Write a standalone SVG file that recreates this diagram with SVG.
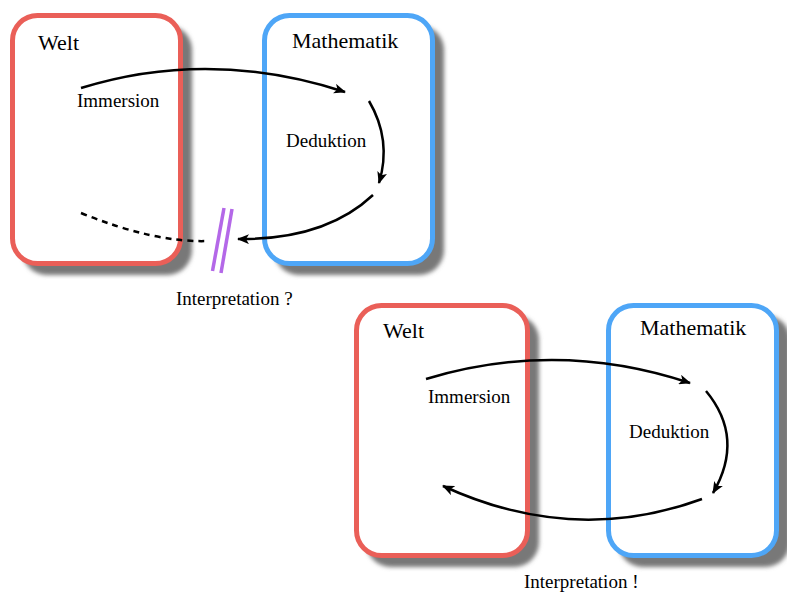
<svg xmlns="http://www.w3.org/2000/svg" width="787" height="592" viewBox="0 0 787 592">
<defs>
<filter id="sh" x="-20%" y="-20%" width="140%" height="140%">
<feGaussianBlur stdDeviation="2"/>
</filter>
<marker id="ah" viewBox="0 0 12 10" refX="11" refY="5" markerWidth="12" markerHeight="10" markerUnits="userSpaceOnUse" orient="auto">
<path d="M0,0 L12,5 L0,10 L3,5 Z" fill="#000"/>
</marker>
<style>
.shadow{fill:#787878;filter:url(#sh)}
.welt{fill:#fff;stroke:#ea5f58;stroke-width:5}
.math{fill:#fff;stroke:#4ea6f7;stroke-width:5}
.t{font-family:"Liberation Serif","Times New Roman",serif;fill:#000}
.big{font-size:22px}
.lbl{font-size:19px}
.arr{fill:none;stroke:#000;stroke-width:2.5;marker-end:url(#ah)}
.dash{fill:none;stroke:#000;stroke-width:2.5;stroke-dasharray:6,5}
.slash{stroke:#b468e8;stroke-width:3.5}
</style>
</defs>
<rect x="0" y="0" width="787" height="592" fill="#fff"/>
<g id="shadows">
<rect class="shadow" x="22" y="25" width="170" height="250" rx="25"/>
<rect class="shadow" x="274" y="25" width="170" height="250" rx="25"/>
<rect class="shadow" x="366" y="315" width="173" height="252" rx="25"/>
<rect class="shadow" x="618" y="315" width="172" height="252" rx="25"/>
</g>
<g id="welt1">
<rect class="welt" x="12.5" y="15.5" width="168" height="248" rx="25"/>
<text class="t big" x="38" y="50">Welt</text>
</g>
<g id="math1">
<rect class="math" x="264.5" y="15.5" width="168" height="248" rx="25"/>
<text class="t big" x="292" y="48">Mathematik</text>
</g>
<g id="welt2">
<rect class="welt" x="356.5" y="305.5" width="171" height="250" rx="25"/>
<text class="t big" x="383" y="338">Welt</text>
</g>
<g id="math2">
<rect class="math" x="608.5" y="305.5" width="168" height="250" rx="25"/>
<text class="t big" x="640" y="335">Mathematik</text>
</g>
<g id="connectors">
<path class="arr" d="M81,88 Q210,48 345,92"/>
<path class="arr" d="M369,101 Q392,140 379,183"/>
<path class="arr" d="M373,195 Q325,240 238,239"/>
<path class="dash" d="M81,213 Q155,243 208,241"/>
<line class="slash" x1="224" y1="208" x2="212.5" y2="271"/>
<line class="slash" x1="232" y1="209" x2="221" y2="273"/>
<path class="arr" d="M426,379 Q558,339 690,383"/>
<path class="arr" d="M706,391 Q745,438 713,493"/>
<path class="arr" d="M702,499 Q573,546 443,486"/>
</g>
<g id="labels">
<text class="t lbl" x="77" y="107">Immersion</text>
<text class="t lbl" x="286" y="147">Deduktion</text>
<text class="t lbl" x="176" y="305">Interpretation ?</text>
<text class="t lbl" x="428" y="403">Immersion</text>
<text class="t lbl" x="629" y="438">Deduktion</text>
<text class="t lbl" x="524" y="588">Interpretation !</text>
</g>
</svg>
